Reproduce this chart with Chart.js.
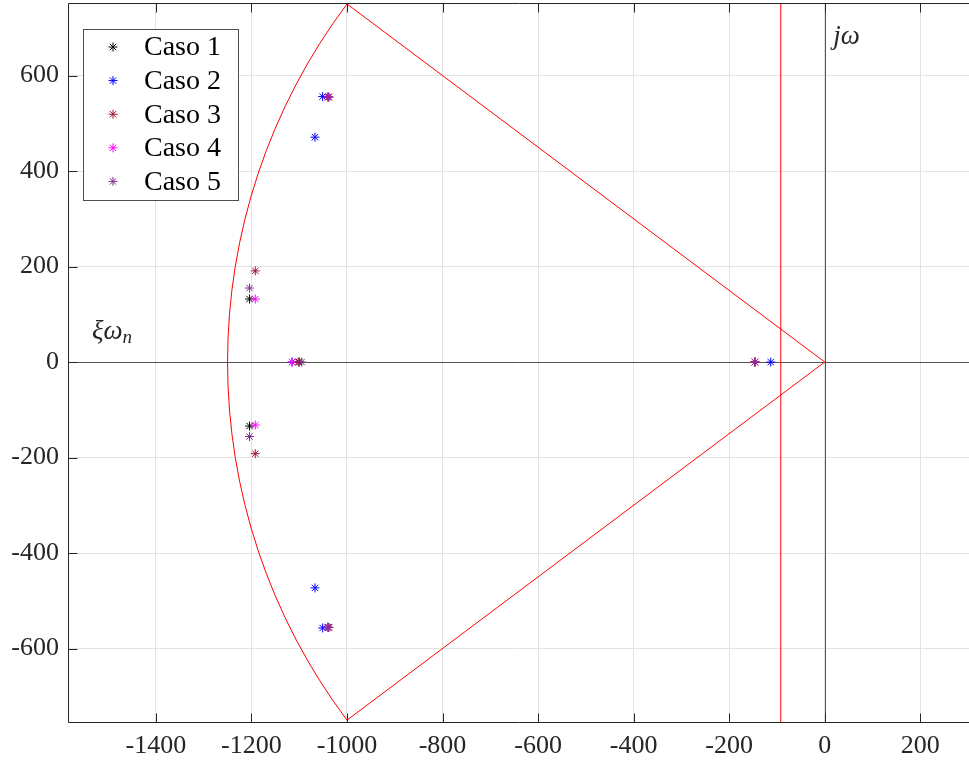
<!DOCTYPE html>
<html>
<head>
<meta charset="utf-8">
<script src="https://cdn.jsdelivr.net/npm/chart.js@4/dist/chart.umd.min.js"></script>
<style>
  body { margin: 0; background: #fff; }
  #wrap { width: 969px; height: 765px; }
</style>
</head>
<body>
<div id="wrap"><canvas id="polos" width="969" height="765"></canvas></div>
<script>
// Polos de cada caso: [parte real, parte imaginaria]
const polosCaso1 = [[-1204, 132], [-1204, -134], [-1100, 0], [-1040, 555], [-1040, -555], [-146, 0]];
const polosCaso2 = [[-1051, 556], [-1051, -557], [-1067, 471], [-1067, -473], [-1115, 0], [-113, 0]];
const polosCaso3 = [[-1192, 191], [-1192, -192], [-1102, 0], [-1038, 555], [-1038, -556], [-146, 0]];
const polosCaso4 = [[-1192, 132], [-1192, -132], [-1115, 0], [-1040, 555], [-1040, -556], [-146, 0]];
const polosCaso5 = [[-1204, 155], [-1204, -156], [-1095, 0], [-1038, 555], [-1038, -556], [-146, 0]];

const casos = ['Caso 1', 'Caso 2', 'Caso 3', 'Caso 4', 'Caso 5'];
const colores = ['#000000', '#0000ff', '#a2142f', '#ff00ff', '#7e2f8e'];
const polos = [polosCaso1, polosCaso2, polosCaso3, polosCaso4, polosCaso5];

// Region de diseno (sector + arco + limite vertical)
const sectorVertices = [[-1000, 750], [0, 0], [-1000, -750]];
const sectorRadio = 1250;
const limiteSigma = -92;

// Ejes
const xLim = [-1584, 302];
const yLim = [-756, 752];
const xTicks = [-1400, -1200, -1000, -800, -600, -400, -200, 0, 200];
const yTicks = [-600, -400, -200, 0, 200, 400, 600];

const fuente = '"Liberation Serif", "Times New Roman", serif';
const colorEje = '#262626';

const toXY = arr => arr.map(p => ({ x: p[0], y: p[1] }));

const datasets = [];
polos.forEach((arr, i) => {
    datasets.push({
        label: casos[i],
        data: toXY(arr),
        pointStyle: 'star',
        pointRadius: 4.5,
        pointHoverRadius: 4.5,
        borderColor: colores[i],
        backgroundColor: colores[i],
        pointBorderWidth: 1,
        showLine: false,
        order: 5 - i
    });
});
datasets.push({
    label: 'sector',
    data: toXY(sectorVertices),
    showLine: true,
    pointRadius: 0,
    borderColor: '#ff0000',
    borderWidth: 1,
    order: 20
});
datasets.push({
    label: 'limite',
    data: [{ x: limiteSigma, y: yLim[0] }, { x: limiteSigma, y: yLim[1] }],
    showLine: true,
    pointRadius: 0,
    borderColor: '#ff0000',
    borderWidth: 1,
    order: 20
});

function drawStar(ctx, x, y, r, color) {
    ctx.save();
    ctx.strokeStyle = color;
    ctx.lineWidth = 1;
    ctx.beginPath();
    const d = r * Math.SQRT1_2;
    ctx.moveTo(x - r, y); ctx.lineTo(x + r, y);
    ctx.moveTo(x, y - r); ctx.lineTo(x, y + r);
    ctx.moveTo(x - d, y - d); ctx.lineTo(x + d, y + d);
    ctx.moveTo(x - d, y + d); ctx.lineTo(x + d, y - d);
    ctx.stroke();
    ctx.restore();
}

// Ejes en cero y arco, debajo de los polos
const fondoPlugin = {
    id: 'fondo',
    beforeDatasetsDraw(chart) {
        const { ctx, chartArea: a, scales: { x, y } } = chart;
        const x0 = x.getPixelForValue(0);
        const y0 = y.getPixelForValue(0);
        ctx.save();
        ctx.beginPath();
        ctx.rect(a.left, a.top, a.right - a.left, a.bottom - a.top);
        ctx.clip();
        ctx.strokeStyle = '#555555';
        ctx.lineWidth = 1;
        ctx.beginPath();
        ctx.moveTo(Math.round(x0) + 0.5, a.top);
        ctx.lineTo(Math.round(x0) + 0.5, a.bottom);
        ctx.moveTo(a.left, Math.round(y0) + 0.5);
        ctx.lineTo(a.right, Math.round(y0) + 0.5);
        ctx.stroke();

        // arco de radio constante
        const rx = Math.abs(x.getPixelForValue(sectorRadio) - x0);
        const ry = Math.abs(y.getPixelForValue(sectorRadio) - y0);
        const ang = Math.atan2(sectorVertices[0][1], -sectorVertices[0][0]);
        ctx.strokeStyle = '#ff0000';
        ctx.beginPath();
        ctx.ellipse(x0, y0, rx, ry, 0, Math.PI - ang, Math.PI + ang, false);
        ctx.stroke();
        ctx.restore();
    }
};

// Caja, marcas hacia dentro, leyenda y etiquetas
const adornosPlugin = {
    id: 'adornos',
    afterDraw(chart) {
        const { ctx, chartArea: a, scales: { x, y } } = chart;
        const L = Math.round(a.left) + 0.5, T = Math.round(a.top) + 0.5, B = Math.round(a.bottom) - 0.5;
        ctx.save();
        ctx.strokeStyle = colorEje;
        ctx.lineWidth = 1;
        ctx.beginPath();
        ctx.moveTo(a.right + 2, T); ctx.lineTo(L, T); ctx.lineTo(L, B); ctx.lineTo(a.right + 2, B);
        xTicks.forEach(v => {
            const px = Math.round(x.getPixelForValue(v)) + 0.5;
            ctx.moveTo(px, B); ctx.lineTo(px, B - 9);
            ctx.moveTo(px, T); ctx.lineTo(px, T + 9);
        });
        yTicks.forEach(v => {
            const py = Math.round(y.getPixelForValue(v)) + 0.5;
            ctx.moveTo(L, py); ctx.lineTo(L + 9, py);
        });
        ctx.stroke();

        // leyenda
        const lx = 83.5, ly = 29.5, lw = 155, lh = 171;
        ctx.fillStyle = '#ffffff';
        ctx.fillRect(lx, ly, lw, lh);
        ctx.strokeStyle = '#4d4d4d';
        ctx.strokeRect(lx, ly, lw, lh);
        ctx.font = '28px ' + fuente;
        ctx.textBaseline = 'middle';
        ctx.textAlign = 'left';
        casos.forEach((c, i) => {
            const ry = 47 + i * 33.6;
            drawStar(ctx, 113, ry, 4.5, colores[i]);
            ctx.fillStyle = '#000000';
            ctx.fillText(c, 144, ry + 1);
        });

        // etiquetas de los ejes
        ctx.fillStyle = '#262626';
        ctx.font = 'italic 27px ' + fuente;
        ctx.fillText('j\u03c9', x.getPixelForValue(18), y.getPixelForValue(681));
        const ex = x.getPixelForValue(-1534), ey = y.getPixelForValue(64);
        ctx.fillText('\u03be\u03c9', ex, ey);
        const w = ctx.measureText('\u03be\u03c9').width;
        ctx.font = 'italic 19px ' + fuente;
        ctx.fillText('n', ex + w, ey + 7);
        ctx.restore();
    }
};

new Chart(document.getElementById('polos').getContext('2d'), {
    type: 'scatter',
    data: { datasets: datasets },
    options: {
        responsive: false,
        animation: false,
        events: [],
        layout: { autoPadding: false, padding: { top: 3, right: 0, left: 0, bottom: 0 } },
        plugins: {
            legend: { display: false },
            tooltip: { enabled: false }
        },
        scales: {
            x: {
                type: 'linear',
                min: xLim[0],
                max: xLim[1],
                afterBuildTicks: s => { s.ticks = xTicks.map(v => ({ value: v })); },
                afterFit: s => { s.height = 42; s.paddingLeft = 0; s.paddingRight = 0; },
                grid: { color: '#e3e3e3', drawTicks: false },
                border: { display: false },
                ticks: {
                    color: colorEje,
                    font: { family: fuente, size: 26 },
                    padding: 8,
                    maxRotation: 0,
                    callback: v => String(v)
                }
            },
            y: {
                type: 'linear',
                min: yLim[0],
                max: yLim[1],
                afterBuildTicks: s => { s.ticks = yTicks.map(v => ({ value: v })); },
                afterFit: s => { s.width = 68; s.paddingTop = 0; s.paddingBottom = 0; },
                grid: { color: '#e3e3e3', drawTicks: false },
                border: { display: false },
                ticks: {
                    color: colorEje,
                    font: { family: fuente, size: 26 },
                    padding: 9,
                    callback: v => String(v)
                }
            }
        }
    },
    plugins: [fondoPlugin, adornosPlugin]
});
</script>
</body>
</html>
